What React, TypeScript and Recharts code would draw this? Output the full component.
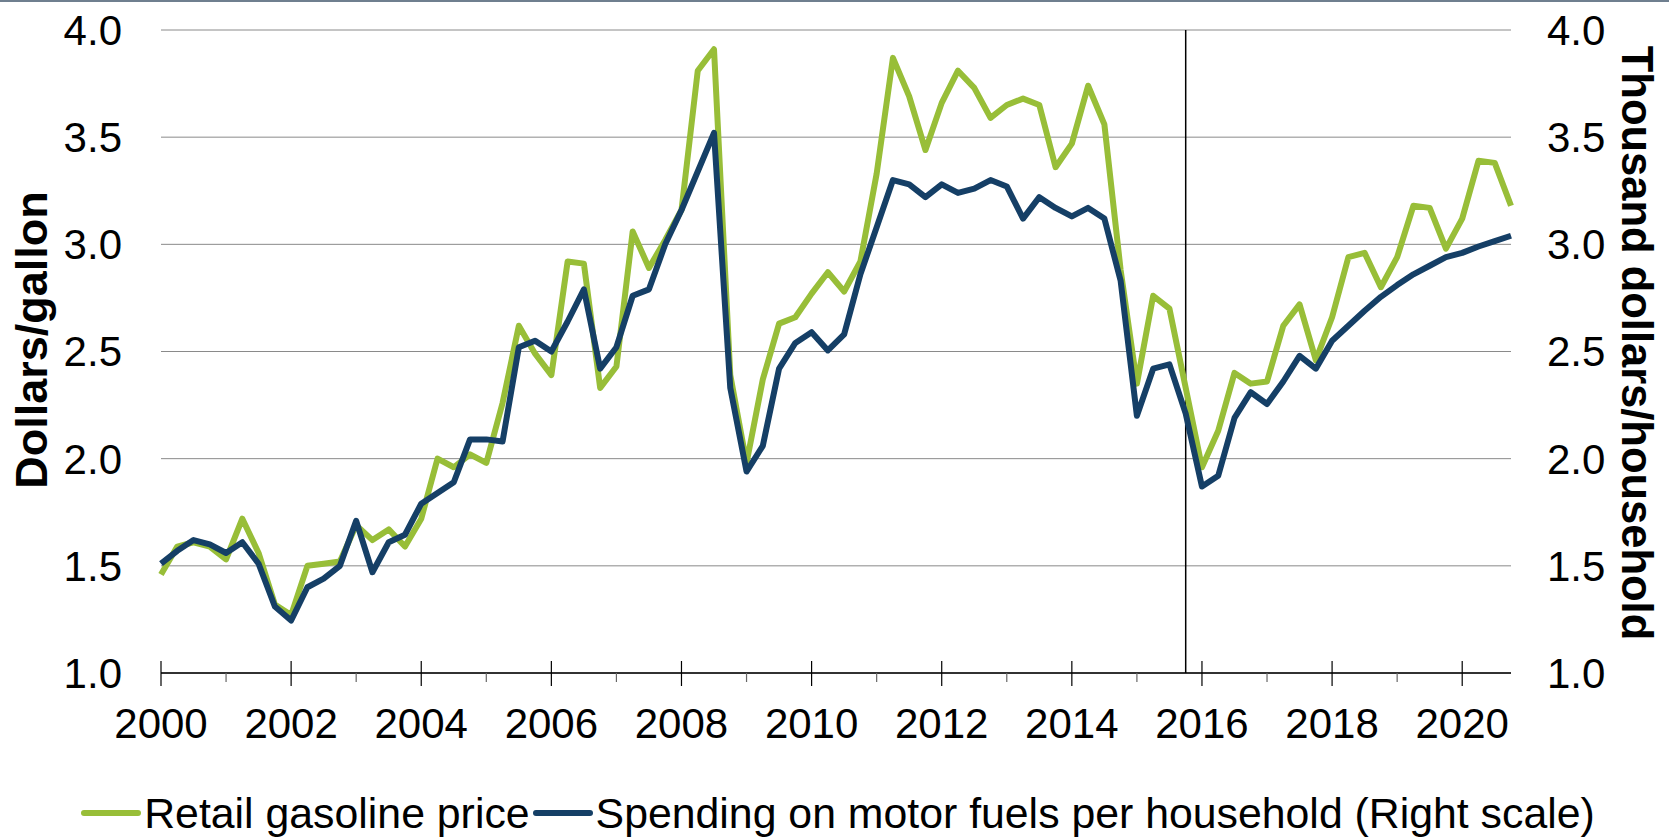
import { LineChart, Line, XAxis, YAxis, CartesianGrid, ReferenceLine } from 'recharts';

// Quarterly values, 2000Q1 .. 2020Q4
const gasoline = [
  1.46, 1.59, 1.61, 1.59, 1.53, 1.72, 1.56, 1.32,
  1.27, 1.5, 1.51, 1.52, 1.69, 1.62, 1.67, 1.59,
  1.72, 2.0, 1.96, 2.02, 1.98, 2.26, 2.62, 2.49,
  2.39, 2.92, 2.91, 2.33, 2.43, 3.06, 2.89, 3.02,
  3.16, 3.81, 3.91, 2.39, 1.98, 2.37, 2.63, 2.66,
  2.77, 2.87, 2.78, 2.92, 3.33, 3.87, 3.69, 3.44,
  3.66, 3.81, 3.73, 3.59, 3.65, 3.68, 3.65, 3.36,
  3.47, 3.74, 3.56, 2.88, 2.35, 2.76, 2.7, 2.33,
  1.96, 2.13, 2.4, 2.35, 2.36, 2.62, 2.72, 2.46,
  2.66, 2.94, 2.96, 2.8, 2.94, 3.18, 3.17, 2.98,
  3.12, 3.39, 3.38, 3.18,
];

const spending = [
  1.51, 1.57, 1.62, 1.6, 1.56, 1.61, 1.51, 1.31,
  1.245, 1.4, 1.44, 1.5, 1.71, 1.47, 1.61, 1.645,
  1.79, 1.84, 1.89, 2.09, 2.09, 2.08, 2.52, 2.55,
  2.5, 2.64, 2.79, 2.42, 2.52, 2.76, 2.79, 3.0,
  3.16, 3.34, 3.52, 2.33, 1.94, 2.06, 2.42, 2.54,
  2.59, 2.505, 2.58, 2.86, 3.08, 3.3, 3.28, 3.22,
  3.28, 3.24, 3.26, 3.3, 3.27, 3.12, 3.22, 3.17,
  3.13, 3.17, 3.12, 2.83, 2.2, 2.42, 2.44, 2.21,
  1.87, 1.92, 2.19, 2.31, 2.255, 2.36, 2.48, 2.42,
  2.55, 2.62, 2.69, 2.755, 2.81, 2.86, 2.9, 2.94,
  2.96, 2.99, 3.015, 3.04,
];

const firstYear = 2000;
const tickYears = [2000, 2001, 2002, 2003, 2004, 2005, 2006, 2007, 2008, 2009, 2010,
  2011, 2012, 2013, 2014, 2015, 2016, 2017, 2018, 2019, 2020];
const labelYears = [2000, 2002, 2004, 2006, 2008, 2010, 2012, 2014, 2016, 2018, 2020];
const yTicks = [1.0, 1.5, 2.0, 2.5, 3.0, 3.5, 4.0];
const dividerQuarter = '2015Q4';

const quarters = gasoline.map((_, i) => `${firstYear + Math.floor(i / 4)}Q${(i % 4) + 1}`);
const data = quarters.map((q, i) => ({ i, q, gas: gasoline[i], spend: spending[i] }));

const GREEN = '#98BE38';
const BLUE = '#153F66';
const FONT = '"Liberation Sans", Arial, sans-serif';

const XTick = (props: any) => {
  const { x, y, payload } = props;
  const year = firstYear + payload.value / 4;
  const major = labelYears.includes(year);
  return (
    <g>
      {major ? (
        <line x1={x} x2={x} y1={y - 12} y2={y + 13} stroke="#000" strokeWidth={1.2} />
      ) : (
        <line x1={x} x2={x} y1={y} y2={y + 9} stroke="#666" strokeWidth={1.2} />
      )}
      {major && (
        <text x={x} y={y + 65} textAnchor="middle" fontSize={42} fill="#000" fontFamily={FONT}>
          {year}
        </text>
      )}
    </g>
  );
};

const LegendItem = ({ color, text }: { color: string; text: string }) => (
  <div style={{ display: 'flex', alignItems: 'center' }}>
    <div style={{ width: 60, height: 6, borderRadius: 3, background: color, marginRight: 3 }} />
    <span style={{ marginRight: 3 }}>{text}</span>
  </div>
);

export default function App() {
  return (
    <div style={{ position: 'absolute', left: 0, top: 0, width: 1669, height: 838, background: '#fff', fontFamily: FONT, overflow: 'hidden' }}>
      <div style={{ position: 'absolute', left: 0, top: 0, width: 1669, height: 2, background: '#6F7F8F' }} />
      <LineChart width={1669} height={838} data={data} margin={{ top: 30, right: 58, left: 61, bottom: 105 }}>
        <CartesianGrid yAxisId="left" horizontal vertical={false} stroke="#8a8a8a" strokeWidth={1} />
        <XAxis
          dataKey="i"
          type="number"
          domain={[0, 83]}
          ticks={tickYears.map((y) => (y - firstYear) * 4)}
          interval={0}
          height={60}
          tickSize={0}
          tickMargin={0}
          tick={<XTick />}
          axisLine={{ stroke: '#000', strokeWidth: 1.5 }}
        />
        <YAxis
          yAxisId="left"
          domain={[1, 4]}
          ticks={yTicks}
          width={100}
          axisLine={false}
          tickLine={false}
          tickSize={0}
          tickMargin={39}
          tickFormatter={(v: number) => v.toFixed(1)}
          tick={{ fontSize: 42, fill: '#000', fontFamily: FONT }}
        />
        <YAxis
          yAxisId="right"
          orientation="right"
          domain={[1, 4]}
          ticks={yTicks}
          width={100}
          axisLine={false}
          tickLine={false}
          tickSize={0}
          tickMargin={36}
          tickFormatter={(v: number) => v.toFixed(1)}
          tick={{ fontSize: 42, fill: '#000', fontFamily: FONT }}
        />
        <ReferenceLine yAxisId="left" x={quarters.indexOf(dividerQuarter)} stroke="#000" strokeWidth={1.5} />
        <Line
          yAxisId="left"
          type="linear"
          dataKey="gas"
          stroke={GREEN}
          strokeWidth={6}
          dot={false}
          strokeLinejoin="round"
          isAnimationActive={false}
        />
        <Line
          yAxisId="right"
          type="linear"
          dataKey="spend"
          stroke={BLUE}
          strokeWidth={6}
          dot={false}
          strokeLinejoin="round"
          isAnimationActive={false}
        />
      </LineChart>
      <svg width={1669} height={838} style={{ position: 'absolute', left: 0, top: 0, pointerEvents: 'none' }}>
        <text transform="translate(47,340) rotate(-90)" textAnchor="middle" fontSize={45} fontWeight="bold" fontFamily={FONT}>
          Dollars/gallon
        </text>
        <text transform="translate(1622,343) rotate(90)" textAnchor="middle" fontSize={43.5} fontWeight="bold" fontFamily={FONT}>
          Thousand dollars/household
        </text>
      </svg>
      <div
        style={{
          position: 'absolute',
          left: 10,
          top: 792,
          width: 1659,
          height: 42,
          lineHeight: '42px',
          fontSize: 42.8,
          display: 'flex',
          justifyContent: 'center',
          color: '#000',
        }}
      >
        <LegendItem color={GREEN} text="Retail gasoline price" />
        <LegendItem color={BLUE} text="Spending on motor fuels per household (Right scale)" />
      </div>
    </div>
  );
}
